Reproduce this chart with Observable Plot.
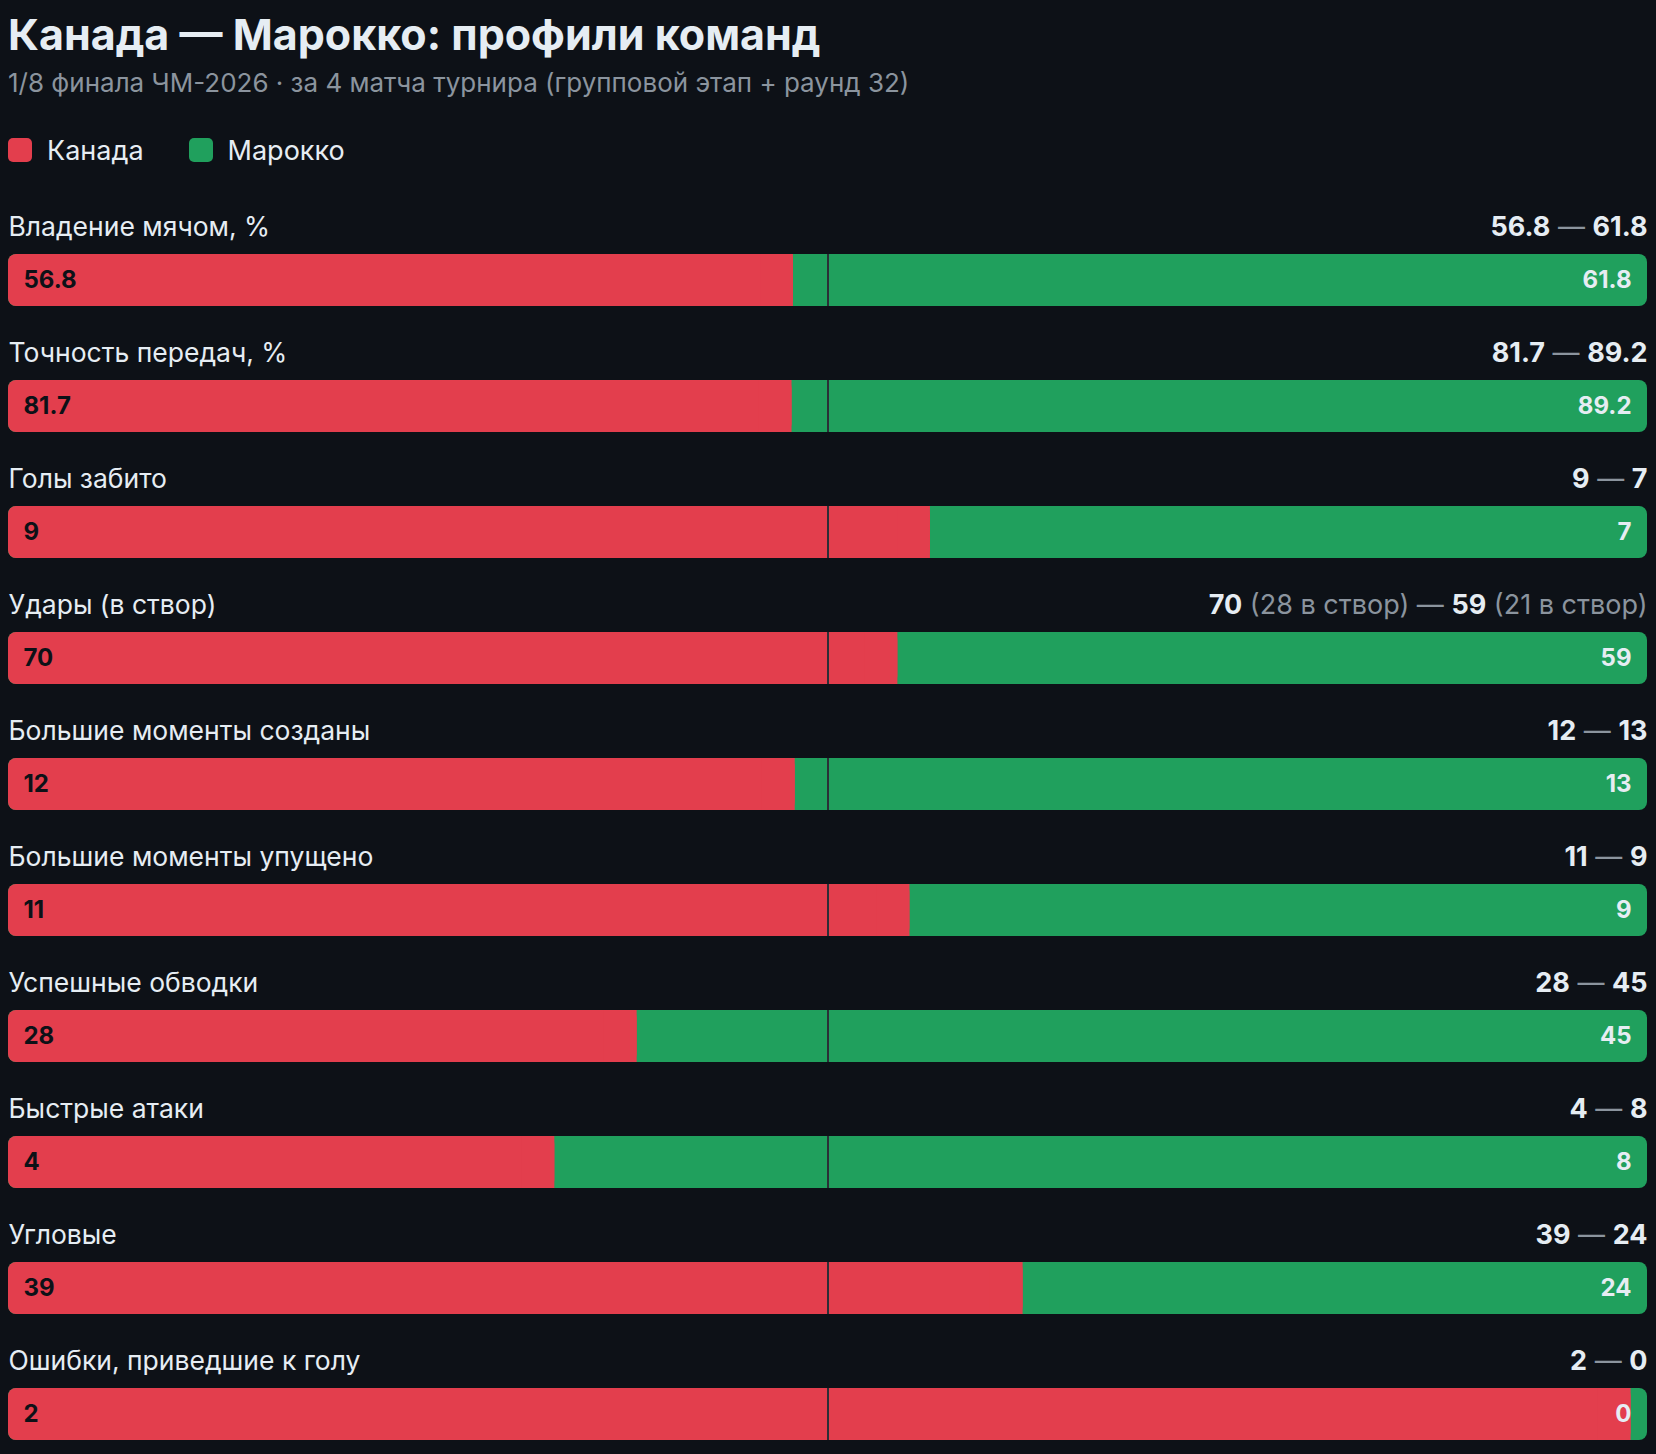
<!DOCTYPE html>
<html>
<head>
<meta charset="utf-8">
<script src="https://cdn.jsdelivr.net/npm/d3@7"></script>
<script src="https://cdn.jsdelivr.net/npm/@observablehq/plot@0.6"></script>
<style>
  html, body { margin: 0; padding: 0; background: #0d1117; }
  body { width: 1656px; height: 1454px; position: relative; overflow: hidden; font-family: Inter, "Noto Sans", sans-serif; color: #e6edf3; }
  #title { position: absolute; left: 8px; top: 13px; font-size: 43px; line-height: 43px; font-weight: 700; white-space: nowrap; }
  #subtitle { position: absolute; left: 8px; top: 70px; font-size: 26px; line-height: 26px; color: #8b949e; white-space: nowrap; }
  #legend { position: absolute; left: 8px; top: 138px; height: 24px; display: flex; align-items: center; font-size: 27px; }
  .item { display: flex; align-items: center; margin-right: 45px; }
  .sw { width: 24px; height: 24px; border-radius: 5px; margin-right: 15px; }
  #chart { position: absolute; left: 0; top: 180px; }
</style>
</head>
<body>
<div id="title"></div>
<div id="subtitle"></div>
<div id="legend"></div>
<div id="chart"></div>
<script>
const titleText = "Канада — Марокко: профили команд";
const subtitleText = "1/8 финала ЧМ-2026 · за 4 матча турнира (групповой этап + раунд 32)";
const teams = ["Канада", "Марокко"];
const teamColors = ["#e33e4d", "#20a05d"];

const categories = [
  "Владение мячом, %",
  "Точность передач, %",
  "Голы забито",
  "Удары (в створ)",
  "Большие моменты созданы",
  "Большие моменты упущено",
  "Успешные обводки",
  "Быстрые атаки",
  "Угловые",
  "Ошибки, приведшие к голу"
];
const canada  = [56.8, 81.7, 9, 70, 12, 11, 28, 4, 39, 2];
const morocco = [61.8, 89.2, 7, 59, 13, 9, 45, 8, 24, 0];
const canadaNote  = [null, null, null, "28 в створ", null, null, null, null, null, null];
const moroccoNote = [null, null, null, "21 в створ", null, null, null, null, null, null];

const RED = teamColors[0], GREEN = teamColors[1];
const LIGHT = "#e6edf3", GRAY = "#8b949e", DARK = "#0d1117";

document.getElementById("title").textContent = titleText;
document.getElementById("subtitle").textContent = subtitleText;
const legend = d3.select("#legend");
teams.forEach((t, i) => {
  const it = legend.append("div").attr("class", "item");
  it.append("div").attr("class", "sw").style("background", teamColors[i]);
  it.append("span").text(t);
});

const rows = categories.map((c, i) => {
  const a = canada[i], b = morocco[i];
  const share = Math.min(0.99, Math.max(0.01, a / (a + b)));
  return { cat: c, a, b, share, na: canadaNote[i], nb: moroccoNote[i],
           summary: `${a} — ${b}` };
});

const BAND = 126, BARTOP = 74, MID = BAND / 2;
const FONT = 'Inter, "Noto Sans", sans-serif';

const chart = Plot.plot({
  width: 1656,
  height: BAND * categories.length,
  marginLeft: 8, marginRight: 9, marginTop: 0, marginBottom: 0,
  x: { domain: [0, 1], axis: null },
  y: { domain: categories, axis: null, padding: 0 },
  style: { background: "transparent", fontFamily: FONT },
  marks: [
    Plot.barX(rows, { x1: () => 0, x2: () => 1, y: "cat", fill: GREEN, rx: 8, insetTop: BARTOP }),
    Plot.barX(rows, { x1: () => 0, x2: "share", y: "cat", fill: RED, rx: 8, insetTop: BARTOP }),
    Plot.barX(rows, { x1: d => Math.max(0.02, d.share - 0.02), x2: "share", y: "cat", fill: RED, insetTop: BARTOP }),
    Plot.tickX(rows, { x: () => 0.5, y: "cat", stroke: "#2b2f36", strokeWidth: 2, insetTop: BARTOP }),
    Plot.text(rows, { x: () => 0, y: "cat", text: "cat", textAnchor: "start", lineAnchor: "bottom",
                      dy: 55 - MID, fill: LIGHT, fontSize: 26.5 }),
    Plot.text(rows, { x: () => 1, y: "cat", text: "summary", textAnchor: "end", lineAnchor: "bottom",
                      dy: 55 - MID, fill: LIGHT, fontSize: 27, fontWeight: 700, className: "vals" }),
    Plot.text(rows, { x: () => 0, y: "cat", text: d => String(d.a), textAnchor: "start",
                      dx: 15, dy: BARTOP + 26 - MID, fill: DARK, fontSize: 24, fontWeight: 700 }),
    Plot.text(rows, { x: () => 1, y: "cat", text: d => String(d.b), textAnchor: "end",
                      dx: -16, dy: BARTOP + 26 - MID, fill: LIGHT, fontSize: 24, fontWeight: 700 })
  ]
});

document.getElementById("chart").appendChild(chart);

// Rich styling for the summary texts on the right
d3.select(chart).selectAll(".vals text").each(function(i) {
  const d = rows[i];
  const el = d3.select(this);
  el.text(null);
  const parts = [{ t: String(d.a), bold: true }];
  if (d.na) parts.push({ t: ` (${d.na})`, bold: false });
  parts.push({ t: " — ", bold: false });
  parts.push({ t: String(d.b), bold: true });
  if (d.nb) parts.push({ t: ` (${d.nb})`, bold: false });
  parts.forEach(p => {
    el.append("tspan").text(p.t)
      .attr("fill", p.bold ? LIGHT : GRAY)
      .attr("font-weight", p.bold ? 700 : 400);
  });
});
</script>
</body>
</html>
